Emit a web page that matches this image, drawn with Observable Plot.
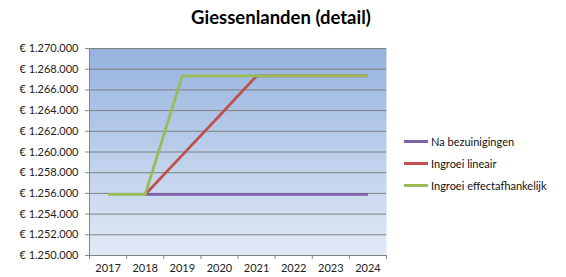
<!DOCTYPE html>
<html>
<head>
<meta charset="utf-8">
<script src="https://cdn.jsdelivr.net/npm/d3@7"></script>
<script src="https://cdn.jsdelivr.net/npm/@observablehq/plot@0.6"></script>
<style>
  html, body { margin: 0; padding: 0; background: #fff; }
  #wrap { position: relative; width: 566px; height: 277px; font-family: Lato, "Liberation Sans", sans-serif; }
  #title { position: absolute; left: 0; width: 566px; top: 6px; text-align: center; padding-left: 2px; box-sizing: border-box;
           font-size: 18.5px; font-weight: bold; color: #000; }
  #title span { position: relative; left: -3px; }
  #legend { position: absolute; left: 404px; top: 130px; font-size: 11px; color: #111; }
  .li { display: flex; align-items: center; height: 22px; }
  .sw { width: 24px; height: 3px; margin-right: 3px; }
</style>
</head>
<body>
<div id="wrap">
  <div id="title"><span>Giessenlanden (detail)</span></div>
  <div id="legend"></div>
</div>
<script>
const years = [2017, 2018, 2019, 2020, 2021, 2022, 2023, 2024];
const seriesNames = ["Na bezuinigingen", "Ingroei lineair", "Ingroei effectafhankelijk"];
const seriesColors = ["#7f62a8", "#c0504d", "#9bbb59"];
const naBezuinigingen = [null, 1255900, 1255900, 1255900, 1255900, 1255900, 1255900, 1255900];
const ingroeiLineair = [null, 1255900, 1259700, 1263500, 1267350, 1267350, 1267350, 1267350];
const ingroeiEffect = [1255900, 1255900, 1267350, 1267350, 1267350, 1267350, 1267350, 1267350];
const yTicks = [1250000, 1252000, 1254000, 1256000, 1258000, 1260000, 1262000, 1264000, 1266000, 1268000, 1270000];

const allSeries = [naBezuinigingen, ingroeiLineair, ingroeiEffect];
const rows = [];
allSeries.forEach((vals, si) => vals.forEach((v, i) => {
  if (v != null) rows.push({series: seriesNames[si], year: years[i], value: v});
}));
const boundaries = [years[0] - 0.5, ...years.map(y => y + 0.5)];

const loc = d3.formatLocale({decimal: ",", thousands: ".", grouping: [3], currency: ["€ ", ""]});
const fmt = loc.format("$,.0f");

const chart = Plot.plot({
  width: 566,
  height: 277,
  marginLeft: 89,
  marginRight: 180,
  marginTop: 48,
  marginBottom: 22,
  style: {fontFamily: "Lato, 'Liberation Sans', sans-serif", fontSize: "11px", color: "#222", background: "transparent"},
  x: {domain: [years[0] - 0.5, years[years.length - 1] + 0.5], axis: null},
  y: {domain: [yTicks[0], yTicks[yTicks.length - 1]], axis: null},
  color: {domain: seriesNames, range: seriesColors},
  marks: [
    Plot.frame({fill: "url(#bgGrad)", stroke: null}),
    Plot.gridY(yTicks, {stroke: "#7f7f7f", strokeOpacity: 1, strokeWidth: 1}),
    Plot.ruleX([boundaries[0]], {stroke: "#868686", strokeWidth: 1}),
    Plot.axisY(yTicks, {label: null, tickSize: 4, tickPadding: 7, stroke: "#868686", tickFormat: fmt, fontSize: 11, fill: "#222"}),
    Plot.axisX(boundaries, {label: null, tickSize: 4, tickFormat: () => "", stroke: "#868686"}),
    Plot.axisX(years, {label: null, tickSize: 0, tickPadding: 9, tickFormat: d => String(d), fontSize: 11, fill: "#222"}),
    Plot.line(rows, {x: "year", y: "value", z: "series", stroke: "series", strokeWidth: 2.8, strokeLinejoin: "miter", strokeLinecap: "butt"})
  ]
});

const svg = d3.select(chart);
const defs = svg.insert("defs", ":first-child");
const g = defs.append("linearGradient").attr("id", "bgGrad").attr("x1", 0).attr("y1", 0).attr("x2", 0).attr("y2", 1);
g.append("stop").attr("offset", "0%").attr("stop-color", "#95b3df");
g.append("stop").attr("offset", "100%").attr("stop-color", "#e2eaf6");

chart.style.position = "absolute";
chart.style.left = "0";
chart.style.top = "0";
document.getElementById("wrap").prepend(chart);

const legend = document.getElementById("legend");
seriesNames.forEach((n, i) => {
  const d = document.createElement("div");
  d.className = "li";
  d.innerHTML = `<div class="sw" style="background:${seriesColors[i]}"></div><span>${n}</span>`;
  legend.appendChild(d);
});
</script>
</body>
</html>
